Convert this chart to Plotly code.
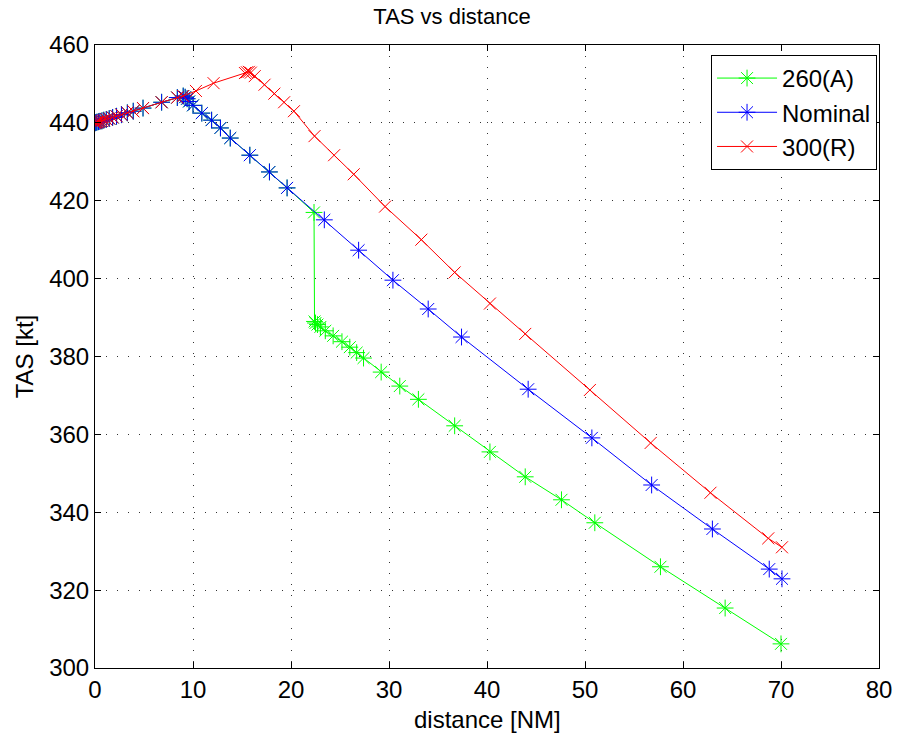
import plotly.graph_objects as go

# shared initial segment (all three profiles)
shared_x = [0, 0.1, 0.2, 0.35, 0.5, 0.7, 0.9, 1.15, 1.45, 1.8, 2.2, 2.7, 3.3, 3.9, 4.9, 6.8, 8.4, 9.0]
shared_y = [440.0, 440.1, 440.2, 440.3, 440.4, 440.5, 440.7, 440.9, 441.1, 441.4, 441.7, 442.1, 442.6, 443.0, 443.8, 445.3, 446.5, 446.9]

nom_x = shared_x + [9.2, 9.4, 9.6, 10.0, 10.9, 11.9, 12.8, 13.8, 15.8, 17.8, 19.6, 23.4, 26.9, 30.4, 34.0, 37.4, 44.2, 50.7, 56.8, 63.0, 68.8, 70.1]
nom_y = shared_y + [446.6, 446.2, 445.5, 444.5, 442.5, 440.7, 438.7, 436.1, 431.7, 427.4, 423.3, 415.1, 407.3, 399.6, 392.2, 385.0, 371.6, 359.1, 347.0, 335.7, 325.4, 322.9]

a_x = shared_x + [9.2, 9.4, 9.6, 10.0, 10.9, 11.9, 12.8, 13.8, 15.8, 17.8, 19.6, 22.35, 22.4, 22.5, 22.7, 23.0, 23.5, 24.3, 25.2, 26.0, 26.7, 27.4,
                  29.2, 31.1, 33.0, 36.7, 40.3, 43.9, 47.6, 51.0, 57.7, 64.3, 70.0]
a_y = shared_y + [446.6, 446.2, 445.5, 444.5, 442.5, 440.7, 438.7, 436.1, 431.7, 427.4, 423.3, 417.0, 389.0, 388.6, 388.2, 387.6, 386.6, 385.3, 383.8, 382.4, 381.0, 379.6,
                  376.0, 372.4, 369.0, 362.2, 355.5, 349.1, 343.2, 337.3, 326.0, 315.4, 306.2]

r_x = shared_x + [10.3, 12.1, 15.3, 15.5, 15.7, 15.9, 16.3, 17.3, 18.3, 19.3, 20.3, 22.4, 24.4, 26.4, 29.6, 33.3, 36.7, 40.3, 43.9, 50.5, 56.7, 62.8, 68.7, 70.1]
r_y = shared_y + [448.2, 450.2, 452.8, 453.0, 453.1, 452.9, 452.0, 449.8, 447.5, 445.3, 443.0, 436.6, 431.7, 426.8, 418.5, 410.0, 401.6, 393.6, 385.8, 371.4, 357.8, 345.0, 333.3, 331.0]

x_ticks = [0, 10, 20, 30, 40, 50, 60, 70, 80]
y_ticks = [300, 320, 340, 360, 380, 400, 420, 440, 460]

fig = go.Figure()
fig.add_trace(go.Scatter(x=a_x, y=a_y, mode="lines+markers", name="260(A)",
                         line=dict(color="#00ff00", width=1),
                         marker=dict(symbol="asterisk-open", size=14, line=dict(color="#00ff00", width=1))))
fig.add_trace(go.Scatter(x=nom_x, y=nom_y, mode="lines+markers", name="Nominal",
                         line=dict(color="#0000ff", width=1),
                         marker=dict(symbol="asterisk-open", size=14, line=dict(color="#0000ff", width=1))))
fig.add_trace(go.Scatter(x=r_x, y=r_y, mode="lines+markers", name="300(R)",
                         line=dict(color="#ff0000", width=1),
                         marker=dict(symbol="x-thin-open", size=12, line=dict(color="#ff0000", width=1))))

axis_common = dict(showline=True, linecolor="black", linewidth=1, mirror="ticks",
                   ticks="inside", ticklen=6, tickcolor="black",
                   showgrid=True, gridcolor="#333333", gridwidth=1, griddash="1px,10px",
                   zeroline=False, tickfont=dict(size=24, color="black"),
                   title_font=dict(size=24, color="black"))

fig.update_xaxes(range=[0, 80], tickvals=x_ticks, **axis_common)
fig.update_yaxes(range=[300, 460], tickvals=y_ticks, title_text="TAS [kt]", title_standoff=8, **axis_common)

fig.add_annotation(text="distance [NM]", xref="paper", yref="paper", x=0.5, y=-51 / 623,
                   xanchor="center", yanchor="middle", showarrow=False,
                   font=dict(size=24, color="black"))

fig.update_layout(
    width=904, height=738,
    margin=dict(l=95, r=18, t=45, b=70),
    paper_bgcolor="white", plot_bgcolor="white",
    font=dict(family="Liberation Sans, Arial, sans-serif", color="black"),
    title=dict(text="TAS vs distance", x=0.5, xanchor="center", yref="container", y=1 - 16 / 738, yanchor="middle",
               font=dict(size=22, color="black")),
    legend=dict(x=0.9975, y=0.984, xanchor="right", yanchor="top",
                bgcolor="white", bordercolor="black", borderwidth=1,
                font=dict(size=24, color="black"), tracegroupgap=0, itemwidth=60),
    showlegend=True,
)

fig.write_html("out.html")
